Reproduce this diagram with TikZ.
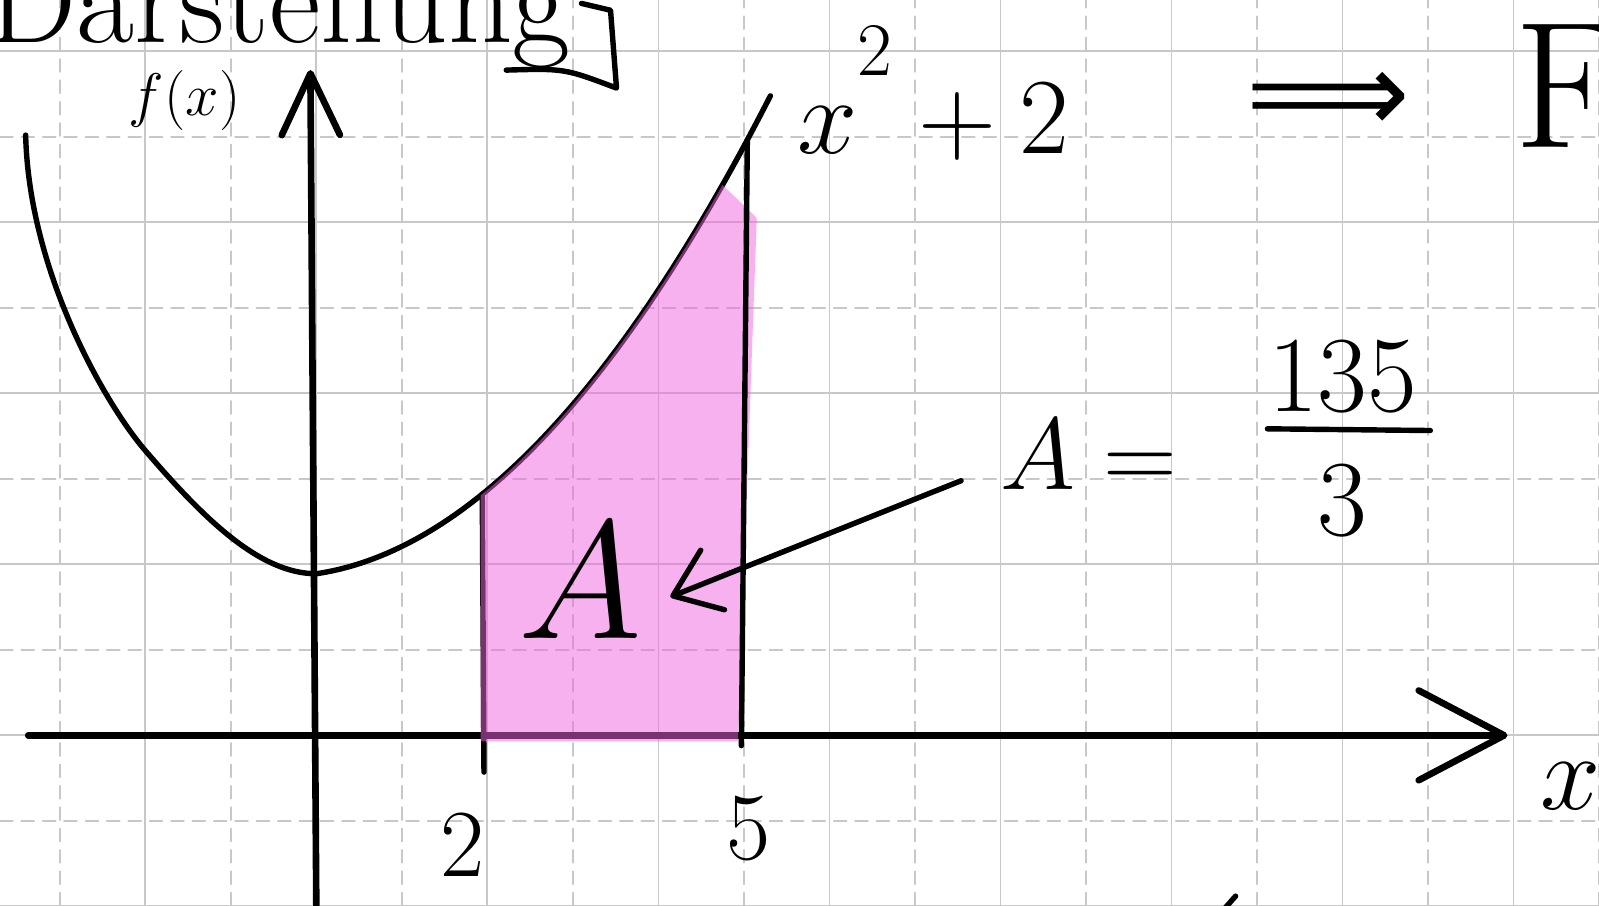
\RequirePackage{fix-cm}
\documentclass[tikz,border=0pt]{standalone}
\usepackage{amsmath}
\usepackage{fontspec}
\newfontfamily\djvfont{DejaVu Sans}
\usepackage{xcolor}
\usepackage{tikz}
\usetikzlibrary{arrows.meta, positioning}

\definecolor{hlpink}{RGB}{240,100,222}
\definecolor{gridgray}{RGB}{200,200,200}

\begin{document}
\begin{tikzpicture}[line cap=round, line join=round,
    pen/.style={line width=1.8pt},
    axis/.style={line width=2.2pt},
    gridmajor/.style={gridgray, line width=0.6pt},
    gridminor/.style={gridgray, line width=0.6pt, dash pattern=on 0.15cm off 0.1cm},
    hl/.style={fill=hlpink, fill opacity=0.5},
    hand/.style={inner sep=0pt},
    declare function={fr(\x)=1.89+0.15*\x+0.17*\x*\x;}]
    % Khung hình
    \useasboundingbox (-3.70,-1.99) rectangle (15.0,8.60);
    \fill[white] (-3.70,-1.99) rectangle (15.0,8.60);

    % Lưới ô vuông
    \foreach \i in {-3,-1,...,15} \draw[gridminor] (\i,-1.99) -- (\i,8.6);
    \foreach \i in {-2,0,...,14} \draw[gridmajor] (\i,-1.99) -- (\i,8.6);
    \foreach \j in {-1,1,...,7} \draw[gridminor] (-3.7,\j) -- (15,\j);
    \foreach \j in {-2,0,...,8} \draw[gridmajor] (-3.7,\j) -- (15,\j);

    % Hệ trục tọa độ
    \draw[axis, -{Straight Barb[length=1cm, width=1.05cm, round]}] (-3.37,0) -- (13.93,0);
    \draw[axis, -{Straight Barb[length=0.72cm, width=0.68cm, round]}] (0.0,-2.1) -- (-0.07,7.78);

    % Đồ thị hàm số
    \draw[pen] (-3.40,7.02) .. controls (-3.36,5.4) and (-2.45,3.85) .. (-2,3.33)
        .. controls (-1.33,2.55) and (-0.67,1.89) .. (0,1.89)
        -- plot[domain=0:5.31, samples=60] (\x,{fr(\x)});
    \draw[pen] (1.94,{fr(1.94)}) -- (1.96,-0.43);

    % Tô màu diện tích
    \fill[hl] (1.92,-0.07) -- plot[domain=1.92:4.75, samples=30] (\x,{fr(\x)})
        -- (5.15,6.05) -- (4.93,-0.07) -- cycle;
    \draw[pen] (5.04,{fr(5.04)}) -- (4.97,-0.12);

    % Nhãn
    \node[hand, anchor=base east, font=\fontsize{42}{46}\selectfont] (title) at (2.98,8.10) {Darstellung};
    \draw[pen] (2.22,7.78) .. controls (2.9,7.8) .. (3.51,7.57) -- (3.44,8.48) -- (3.1,8.56);
    \node[hand, font=\fontsize{20}{24}\selectfont] (fx) at (-1.54,7.42) {$f(x)$};
    \node[hand, anchor=base west, font=\fontsize{36}{40}\selectfont] (func) at (5.62,6.81) {$x^{\raisebox{0.35em}{$\scriptstyle 2$}}+2$};
    \node[hand, font=\fontsize{38}{42}\djvfont] (impl) at (11.84,7.4) {⟹};
    \node[hand, anchor=base west, font=\fontsize{60}{64}\selectfont] (Fl) at (14.0,6.87) {F};
    \node[hand, font=\fontsize{56}{60}\selectfont] (bigA) at (3.09,1.81) {$A$};
    \node[hand, anchor=base west, font=\fontsize{34}{40}\selectfont] (Aeq) at (7.99,2.87) {$A=$};
    \node[hand, font=\fontsize{36}{40}\selectfont] (num) at (12.0,4.2) {$135$};
    \node[hand, font=\fontsize{36}{40}\selectfont] (den) at (12.0,2.75) {$3$};
    \draw[pen] ([yshift=-0.2cm]num.south west) -- ([xshift=0.15cm, yshift=-0.22cm]num.south east);
    \node[hand, font=\fontsize{36}{40}\selectfont] (xlab) at (14.67,-0.59) {$x$};
    \node[hand, font=\fontsize{32}{36}\selectfont] (lab2) at (1.71,-1.29) {$2$};
    \node[hand, font=\fontsize{32}{36}\selectfont] (lab5) at (5.05,-1.09) {$5$};

    % Mũi tên chỉ vào A
    \coordinate (tipA) at (4.14,1.62);
    \draw[pen, -{Straight Barb[length=0.5cm, width=0.75cm, round]}] ([xshift=-0.45cm, yshift=-0.3cm]Aeq.west) -- (tipA);
    \draw[pen] (10.6,-2.05) -- (10.75,-1.88);
\end{tikzpicture}
\end{document}
